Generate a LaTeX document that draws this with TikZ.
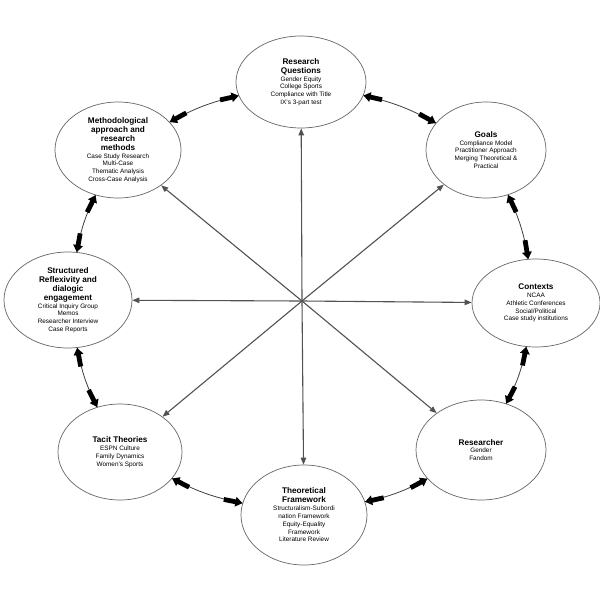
\documentclass[tikz,border=0pt]{standalone}
\usepackage{fontspec}
\setmainfont{Liberation Sans}
\usetikzlibrary{shapes.geometric,arrows.meta,decorations.markings}
\newcommand{\ttl}[1]{{\fontsize{8.2}{9.2}\selectfont\bfseries #1}}
\begin{document}
\begin{tikzpicture}[x=1pt,y=-1pt,
 bub/.style={ellipse, draw=black!60, line width=0.7pt, inner sep=0pt, align=center, font=\fontsize{6.4}{7.8}\selectfont},
 spoke/.style={draw=black!68, line width=1.1pt, -{Triangle[length=7pt,width=5.5pt]}},
 link/.style={draw=black!75, line width=0.8pt, bend left=8, postaction={decorate},
   decoration={markings,
     mark=at position 0 with {\fill[black] (19,-2.4) -- (7,-2.4) -- (7,-5) -- (0,0) -- (7,5) -- (7,2.4) -- (19,2.4) -- cycle;},
     mark=at position 1 with {\fill[black] (-19,-2.4) -- (-7,-2.4) -- (-7,-5) -- (0,0) -- (-7,5) -- (-7,2.4) -- (-19,2.4) -- cycle;}}}
]
\fill[white] (0,0) rectangle (600,600);
\useasboundingbox (0,0) rectangle (600,600);

\node[bub, minimum width=130pt, minimum height=92pt] (rq) at (301,82)
  {\ttl{Research}\\[1.2pt]\ttl{Questions}\\Gender Equity\\College Sports\\Compliance with Title\\IX's 3-part test};
\node[bub, minimum width=126pt, minimum height=96pt] (me) at (118,150)
  {\ttl{Methodological}\\[1.2pt]\ttl{approach and}\\[1.2pt]\ttl{research}\\[1.2pt]\ttl{methods}\\Case Study Research\\Multi-Case\\Thematic Analysis\\Cross-Case Analysis};
\node[bub, minimum width=120pt, minimum height=96pt] (go) at (486,150)
  {\ttl{Goals}\\Compliance Model\\Practitioner Approach\\Merging Theoretical \&\\Practical};
\node[bub, minimum width=128pt, minimum height=96pt] (sr) at (68,300)
  {\ttl{Structured}\\[1.2pt]\ttl{Reflexivity and}\\[1.2pt]\ttl{dialogic}\\[1.2pt]\ttl{engagement}\\Critical Inquiry Group\\Memos\\Researcher Interview\\Case Reports};
\node[bub, minimum width=128pt, minimum height=88pt] (co) at (536,303)
  {\ttl{Contexts}\\NCAA\\Athletic Conferences\\Social/Political\\Case study institutions};
\node[bub, minimum width=124pt, minimum height=96pt] (tt) at (120,452)
  {\ttl{Tacit Theories}\\ESPN Culture\\Family Dynamics\\Women's Sports};
\node[bub, minimum width=130pt, minimum height=100pt] (re) at (481,450)
  {\ttl{Researcher}\\Gender\\Fandom};
\node[bub, minimum width=126pt, minimum height=100pt] (tf) at (304,515)
  {\ttl{Theoretical}\\[1.2pt]\ttl{Framework}\\Structuralism-Subordi\\nation Framework\\Equity-Equality\\Framework\\Literature Review};

\coordinate (hub) at (302,301);
\foreach \n in {rq,go,co,re,tf,tt,sr,me} \draw[spoke] (hub) -- (\n);

\draw[link] (me) to (rq);
\draw[link] (rq) to (go);
\draw[link] (go) to (co);
\draw[link] (co) to (re);
\draw[link] (re) to (tf);
\draw[link] (tf) to (tt);
\draw[link] (tt) to (sr);
\draw[link] (sr) to (me);
\end{tikzpicture}
\end{document}
